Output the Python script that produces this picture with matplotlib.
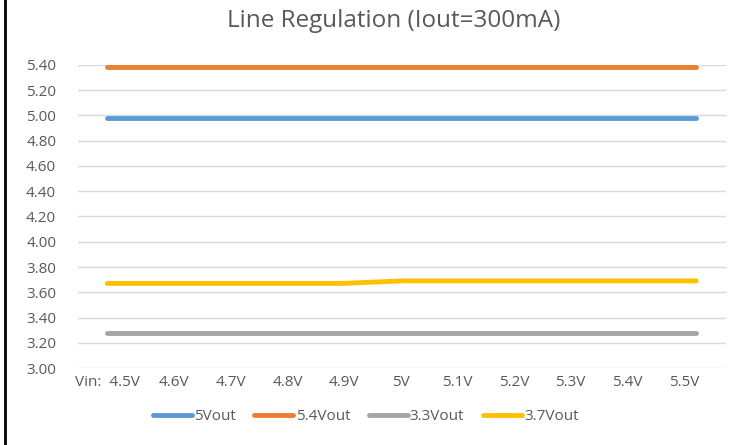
import matplotlib
matplotlib.use('Agg')
import matplotlib.pyplot as plt
from matplotlib.lines import Line2D

plt.rcParams['font.family'] = ['Open Sans', 'DejaVu Sans']

vin = ['4.5V', '4.6V', '4.7V', '4.8V', '4.9V', '5V', '5.1V', '5.2V', '5.3V', '5.4V', '5.5V']
xlabels = ['Vin:  4.5V'] + vin[1:]

vout_5 = [4.98] * 11
vout_54 = [5.38] * 11
vout_33 = [3.28] * 11
vout_37 = [3.67, 3.67, 3.67, 3.67, 3.67, 3.69, 3.69, 3.69, 3.69, 3.69, 3.69]

series = [
    ('5Vout', vout_5, '#5B9BD5'),
    ('5.4Vout', vout_54, '#ED7D31'),
    ('3.3Vout', vout_33, '#A5A5A5'),
    ('3.7Vout', vout_37, '#FFC000'),
]

fig = plt.figure(figsize=(7.33, 4.45), dpi=100)
ax = fig.add_axes([0.106, 0.173, 0.884, 0.681])

x = list(range(len(vin)))
for name, vals, col in series:
    ax.plot(x, vals, color=col, lw=3.5, solid_capstyle='round', label=name, zorder=3)

ax.set_ylim(3.0, 5.4)
ax.set_xlim(-0.5, len(vin) - 0.5)
ticks = [3.0 + 0.2 * i for i in range(13)]
ax.set_yticks(ticks)
ax.set_yticklabels(['%.2f' % t for t in ticks])

# labels in the original sit slightly tighter than the data points
lab_pos = [0] + [1.14 + 0.961 * (i - 1) for i in range(1, len(vin))]
ax.set_xticks(lab_pos)
ax.set_xticklabels(xlabels)
ax.grid(axis='y', color='#D9D9D9', lw=1, zorder=0)
for s in ax.spines.values():
    s.set_visible(False)
ax.tick_params(axis='both', length=0, labelsize=11, labelcolor='#595959')
ax.tick_params(axis='y', pad=15.5)
ax.tick_params(axis='x', pad=5)

fig.text(0.537, 0.953, 'Line Regulation (Iout=300mA)', ha='center', va='center',
         fontsize=17.5, color='#595959')

leg = fig.legend(loc='center', bbox_to_anchor=(0.499, 0.063), ncol=4, frameon=False,
                 fontsize=11, handlelength=2.55, handletextpad=0.15, columnspacing=1.2,
                 labelcolor='#595959')
for h in leg.get_lines():
    h.set_linewidth(3.5)
    h.set_solid_capstyle('round')

fig.add_artist(Line2D([0.0075, 0.0075], [0, 1], color='black', lw=2, transform=fig.transFigure))

fig.savefig('out.png', dpi=100)
